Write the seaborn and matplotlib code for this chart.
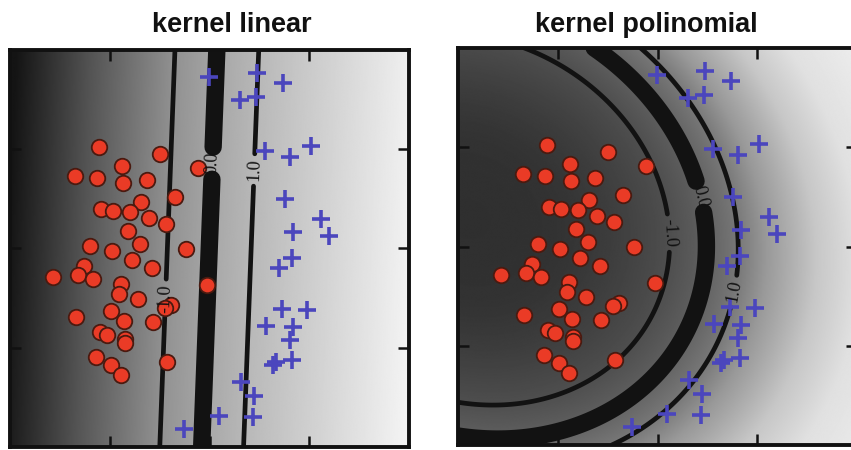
import numpy as np
import matplotlib
matplotlib.use("Agg")
import matplotlib.pyplot as plt
import seaborn as sns

# ---------------- data ----------------
red_x = [-1.103, -0.501, -0.882, -0.112, -1.351, -1.131, -0.872, -0.622, -0.344, -0.689,
         -1.085, -0.972, -0.800, -0.607, -0.438, -0.820, -1.198, -0.692, -0.982, -0.238,
         -0.777, -1.261, -0.573, -1.572, -1.323, -1.165, -0.028, -0.889, -0.907, -0.714,
         -0.389, -0.446, -0.984, -1.338, -0.860, -0.569, -1.093, -1.025, -0.850, -0.852,
         -1.140, -0.429, -0.984, -0.890]
red_y = [1.018, 0.955, 0.831, 0.808, 0.730, 0.715, 0.660, 0.690, 0.516, 0.465,
         0.401, 0.380, 0.365, 0.304, 0.244, 0.176, 0.028, 0.043, -0.028, -0.008,
         -0.116, -0.181, -0.194, -0.284, -0.270, -0.309, -0.368, -0.356, -0.463, -0.511,
         -0.569, -0.600, -0.628, -0.690, -0.730, -0.744, -0.838, -0.872, -0.909, -0.955,
         -1.098, -1.141, -1.174, -1.275]

blue_x = [-0.005, 0.473, 0.740, 0.306, 0.464, 0.561, 1.015, 0.807, 0.757, 1.115,
          0.840, 1.201, 0.824, 0.700, 0.724, 0.977, 0.569, 0.840, 0.810, 0.640,
          0.662, 0.824, 0.314, 0.448, 0.092, 0.433, -0.251]
blue_y = [1.723, 1.765, 1.668, 1.496, 1.529, 0.980, 1.033, 0.917, 0.494, 0.297,
          0.163, 0.126, -0.099, -0.199, -0.607, -0.617, -0.778, -0.788, -0.922, -1.169,
          -1.144, -1.128, -1.342, -1.484, -1.688, -1.698, -1.822]

titles = ["kernel linear", "kernel polinomial"]
contour_levels = [-1.0, 0.0, 1.0]

# linear decision function  f = w0*x + w1*y + b
lin_w = [2.381, -0.0905]
lin_b = 0.006

# polynomial decision boundary: points read on the -1, 0 and +1 contours
poly_m1_x = [-1.145, -0.175, 0.025, 0.092, -0.008, -0.309, -0.844, -1.930]
poly_m1_y = [1.946, 0.972, 0.401, 0.065, -0.607, -1.110, -1.547, -1.681]
poly_0_x = [-0.583, 0.125, 0.419, 0.436, 0.426, 0.259, -0.175, -1.178, -1.930]
poly_0_y = [1.946, 1.241, 0.603, 0.065, -0.438, -1.110, -1.580, -1.815, -1.849]
poly_p1_x = [-0.175, 0.359, 0.660, 0.760, 0.760, 0.660, 0.426, -0.175, -0.710]
poly_p1_y = [1.946, 1.509, 0.972, 0.401, -0.103, -0.673, -1.278, -1.781, -2.050]

# ---------------- styling ----------------
sns.set_theme(style="white")
plt.rcParams["font.family"] = ["Liberation Sans", "DejaVu Sans"]

W, H = 851, 450
fig = plt.figure(figsize=(W / 100, H / 100), dpi=100)
fig.patch.set_facecolor("white")


def add_ax(left, top, w, h):
    return fig.add_axes([left / W, 1 - (top + h) / H, w / W, h / H])


ax1 = add_ax(10, 50, 399, 397)
ax2 = add_ax(458, 48, 399, 397)

g = np.linspace(-2, 2, 500)
X, Y = np.meshgrid(g, g)

# linear surface
Z1 = lin_w[0] * X + lin_w[1] * Y + lin_b


# polynomial (degree 2) surface fitted to the contour points
def basis(x, y):
    return [np.ones_like(x), x, y, x ** 2, x * y, y ** 2]


px = np.array(poly_m1_x + poly_0_x + poly_p1_x)
py = np.array(poly_m1_y + poly_0_y + poly_p1_y)
pv = np.array([-1.0] * len(poly_m1_x) + [0.0] * len(poly_0_x) + [1.0] * len(poly_p1_x))
A = np.column_stack(basis(px, py))
coef, *_ = np.linalg.lstsq(A, pv, rcond=None)
Z2 = sum(c * b for c, b in zip(coef, basis(X, Y)))

# grey shading as a function of decision value
lin_f_nodes = [-4.8, -3.0, -1.0, 0.0, 1.0, 3.0, 4.8]
lin_g_nodes = [0.08, 0.33, 0.57, 0.65, 0.72, 0.84, 0.95]
pol_f_nodes = [-8.0, -3.0, -1.0, 0.0, 1.0, 2.0, 4.0, 6.0, 10.0]
pol_g_nodes = [0.07, 0.20, 0.31, 0.38, 0.47, 0.60, 0.78, 0.88, 0.94]

panels = [
    (ax1, Z1, lin_f_nodes, lin_g_nodes, [(0.025, 0.86), (0.476, 0.79), (-0.466, -0.5)]),
    (ax2, Z2, pol_f_nodes, pol_g_nodes, [(0.46, 0.51), (0.075, 0.133), (0.71, -0.44)]),
]

for ax, Z, fn, gn, lab_pos in panels:
    shade = np.interp(Z, fn, gn)
    ax.imshow(shade, extent=[-2, 2, -2, 2], origin="lower", cmap="gray",
              vmin=0, vmax=1, aspect="auto", interpolation="bilinear", zorder=0)
    cs = ax.contour(X, Y, Z, levels=contour_levels, colors=["#121212"] * 3,
                    linewidths=[3.4, 12.5, 3.4], zorder=2)
    try:
        cs.set_capstyle("round")
    except Exception:
        pass
    with plt.rc_context({"font.family": ["Liberation Serif", "DejaVu Serif"]}):
        texts = ax.clabel(cs, fmt="%.1f", inline=True, fontsize=13,
                          manual=lab_pos, colors="#111111", inline_spacing=5)
    for t in texts:
        t.set_fontfamily(["Liberation Serif", "DejaVu Serif"])

    sns.scatterplot(x=red_x, y=red_y, ax=ax, marker="o", s=125,
                    color="#ea3b26", edgecolor="#4a1a10", linewidth=1.3,
                    zorder=2.6, legend=False)
    sns.scatterplot(x=blue_x, y=blue_y, ax=ax, marker="+", s=160,
                    color="#4b46bd", linewidth=2.6, zorder=2.6, legend=False)

    ax.set_xlim(-2, 2)
    ax.set_ylim(-2, 2)
    ax.set_xticks([-1, 0, 1])
    ax.set_yticks([-1, 0, 1])
    ax.tick_params(direction="in", length=8, width=1.8, color="#111111",
                   top=True, bottom=True, left=True, right=True,
                   labelleft=False, labelbottom=False, labeltop=False, labelright=False)
    for s in ax.spines.values():
        s.set_linewidth(2.8)
        s.set_color("#111111")
        s.set_visible(True)
    ax.set_xlabel("")
    ax.set_ylabel("")

fig.text(232 / W, 1 - 32 / H, titles[0], ha="center", va="baseline",
         fontsize=19.5, fontweight="bold", color="#111111")
fig.text(646 / W, 1 - 32 / H, titles[1], ha="center", va="baseline",
         fontsize=19.5, fontweight="bold", color="#111111")

fig.savefig("out.png", dpi=100)
